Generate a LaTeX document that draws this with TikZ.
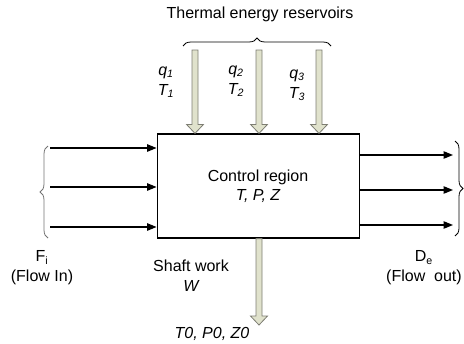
\documentclass[tikz,border=0pt]{standalone}
\usepackage{fontspec}
\setmainfont{Liberation Sans}
\usetikzlibrary{arrows.meta,positioning,calc,decorations.pathreplacing}
\definecolor{heatfill}{RGB}{224,226,204}
\definecolor{heatline}{RGB}{125,125,115}

% vertical block arrow from #1 down to #2
\newcommand{\heatarrow}[2]{%
  \filldraw[heat] ($(#1)+(-3,0)$) -- ($(#2)+(-3,-9)$) -- ($(#2)+(-8.5,-9)$) -- (#2)
    -- ($(#2)+(8.5,-9)$) -- ($(#2)+(3,-9)$) -- ($(#1)+(3,0)$) -- cycle;}

\begin{document}
\begin{tikzpicture}[
  x=0.75pt, y=-0.75pt,
  font=\fontsize{12}{15}\selectfont,
  lbl/.style={align=center, inner sep=0pt},
  heat/.style={draw=heatline, fill=heatfill, line width=0.6pt},
  flow/.style={-{Triangle[length=7pt, width=5.5pt]}, line width=0.9pt},
  curly/.style={decorate, decoration={brace, amplitude=6pt}, line width=0.6pt}
]
\useasboundingbox (0,0) rectangle (464,343);

\node[draw, line width=0.9pt, minimum width=152pt, minimum height=78pt, inner sep=0pt] (cv) at (258.5,186) {};
\node[lbl] (cvname) at (258,177) {Control region};
\node[lbl, below=3pt of cvname] (cvstate) {\itshape T, P, Z};

% heat from the reservoirs
\coordinate (h1) at (195,50);
\coordinate (h2) at (259,50);
\coordinate (h3) at (319,50);
\heatarrow{h1}{h1 |- cv.north}
\heatarrow{h2}{h2 |- cv.north}
\heatarrow{h3}{h3 |- cv.north}
\node[lbl] (q1) at (166,82) {\itshape q\textsubscript{1}\\ \itshape T\textsubscript{1}};
\node[lbl] (q2) at (236,81) {\itshape q\textsubscript{2}\\ \itshape T\textsubscript{2}};
\node[lbl] (q3) at (297,85) {\itshape q\textsubscript{3}\\ \itshape T\textsubscript{3}};
\draw[curly] (183,46) -- (331,46);
\node[lbl] (res) at (260,14) {Thermal energy reservoirs};

% feed streams
\foreach \i/\y in {1/148, 2/187, 3/227} {
  \coordinate (f\i) at (50,\y);
  \draw[flow] (f\i) -- (f\i -| cv.west);
}
\draw[curly, draw=black!55] (48,238) -- (48,146);
\node[lbl] (fin) at (42,268) {F\textsubscript{i}\\(Flow In)};

% discharge streams
\foreach \i/\y in {1/155, 2/190, 3/225} {
  \coordinate (d\i) at (453,\y);
  \draw[flow] (d\i -| cv.east) -- (d\i);
}
\draw[curly] (455,141) -- (455,236);
\node[lbl] (dout) at (424,268) {D\textsubscript{e}\\(Flow\ \ out)};

% shaft work
\coordinate (w) at (259,325);
\heatarrow{w |- cv.south}{w}
\node[lbl] (shaft) at (191,276) {Shaft work\\ \itshape W};
\node[lbl] (dead) at (212,334) {\itshape T0, P0, Z0};
\end{tikzpicture}
\end{document}
